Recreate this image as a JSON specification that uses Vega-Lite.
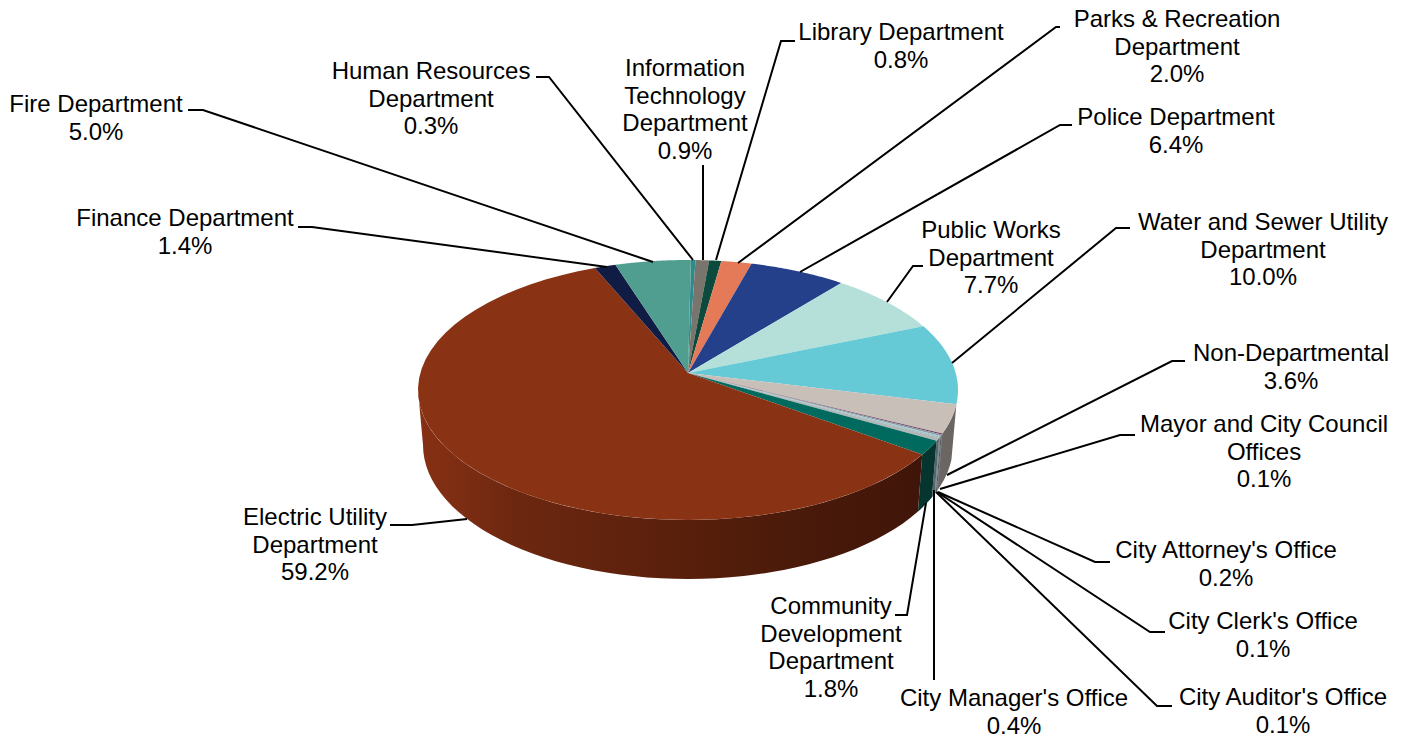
{"$schema":"https://vega.github.io/schema/vega-lite/v6.json","width":1405,"height":740,"padding":0,"autosize":{"type":"none"},"background":"white","config":{"view":{"stroke":null}},"datasets":{"slices":[{"ord":1,"dept":"Human Resources\nDepartment","pct":0.3,"lx":431,"ly":72},{"ord":2,"dept":"Information\nTechnology\nDepartment","pct":0.9,"lx":685,"ly":69},{"ord":3,"dept":"Library Department","pct":0.8,"lx":901,"ly":33},{"ord":4,"dept":"Parks & Recreation\nDepartment","pct":2.0,"lx":1177,"ly":20},{"ord":5,"dept":"Police Department","pct":6.4,"lx":1176,"ly":118},{"ord":6,"dept":"Public Works\nDepartment","pct":7.7,"lx":991,"ly":231},{"ord":7,"dept":"Water and Sewer Utility\nDepartment","pct":10.0,"lx":1263,"ly":223},{"ord":8,"dept":"Non-Departmental","pct":3.6,"lx":1291,"ly":354},{"ord":9,"dept":"Mayor and City Council\nOffices","pct":0.1,"lx":1264,"ly":425},{"ord":10,"dept":"City Attorney's Office","pct":0.2,"lx":1226,"ly":551},{"ord":11,"dept":"City Clerk's Office","pct":0.1,"lx":1263,"ly":622},{"ord":12,"dept":"City Auditor's Office","pct":0.1,"lx":1283,"ly":698},{"ord":13,"dept":"City Manager's Office","pct":0.4,"lx":1014,"ly":699},{"ord":14,"dept":"Community\nDevelopment\nDepartment","pct":1.8,"lx":831,"ly":607},{"ord":15,"dept":"Electric Utility\nDepartment","pct":59.2,"lx":315,"ly":518},{"ord":16,"dept":"Finance Department","pct":1.4,"lx":185,"ly":219},{"ord":17,"dept":"Fire Department","pct":5.0,"lx":96,"ly":105}],"leaders":[{"id":"Fire","seq":1,"px":188,"py":110},{"id":"Fire","seq":2,"px":203,"py":110},{"id":"Fire","seq":3,"px":653,"py":262},{"id":"Finance","seq":1,"px":298,"py":227},{"id":"Finance","seq":2,"px":312,"py":227},{"id":"Finance","seq":3,"px":607,"py":267},{"id":"HR","seq":1,"px":536,"py":77},{"id":"HR","seq":2,"px":549,"py":77},{"id":"HR","seq":3,"px":693,"py":260},{"id":"IT","seq":1,"px":703,"py":165},{"id":"IT","seq":2,"px":703,"py":260},{"id":"Library","seq":1,"px":795,"py":41},{"id":"Library","seq":2,"px":781,"py":41},{"id":"Library","seq":3,"px":716,"py":260},{"id":"Parks","seq":1,"px":1060,"py":27},{"id":"Parks","seq":2,"px":1056,"py":27},{"id":"Parks","seq":3,"px":738,"py":263},{"id":"Police","seq":1,"px":1072,"py":125},{"id":"Police","seq":2,"px":1060,"py":125},{"id":"Police","seq":3,"px":800,"py":272},{"id":"PW","seq":1,"px":923,"py":266},{"id":"PW","seq":2,"px":913,"py":266},{"id":"PW","seq":3,"px":887,"py":302},{"id":"Water","seq":1,"px":1130,"py":228},{"id":"Water","seq":2,"px":1116,"py":228},{"id":"Water","seq":3,"px":952,"py":363},{"id":"Non","seq":1,"px":1185,"py":361},{"id":"Non","seq":2,"px":1172,"py":361},{"id":"Non","seq":3,"px":947,"py":475},{"id":"Mayor","seq":1,"px":1135,"py":435},{"id":"Mayor","seq":2,"px":1120,"py":435},{"id":"Mayor","seq":3,"px":940,"py":489},{"id":"Attorney","seq":1,"px":1110,"py":562},{"id":"Attorney","seq":2,"px":1095,"py":562},{"id":"Attorney","seq":3,"px":938,"py":492},{"id":"Clerk","seq":1,"px":1165,"py":632},{"id":"Clerk","seq":2,"px":1150,"py":632},{"id":"Clerk","seq":3,"px":937,"py":492},{"id":"Auditor","seq":1,"px":1172,"py":706},{"id":"Auditor","seq":2,"px":1157,"py":706},{"id":"Auditor","seq":3,"px":936,"py":492},{"id":"Manager","seq":1,"px":934,"py":680},{"id":"Manager","seq":2,"px":934,"py":490},{"id":"Community","seq":1,"px":895,"py":615},{"id":"Community","seq":2,"px":907,"py":615},{"id":"Community","seq":3,"px":926,"py":503},{"id":"Electric","seq":1,"px":390,"py":525},{"id":"Electric","seq":2,"px":412,"py":525},{"id":"Electric","seq":3,"px":467,"py":519}]},"resolve":{"scale":{"color":"independent"}},"layer":[{"data":{"name":"slices"},"transform":[{"window":[{"op":"sum","field":"pct","as":"cum"}],"sort":[{"field":"ord"}]},{"calculate":"0.012+2*PI*(datum.cum-datum.pct)/100","as":"t0"},{"calculate":"0.012+2*PI*datum.cum/100","as":"t1"},{"calculate":"max(datum.t0-0.1*sin(datum.t0),PI/2)","as":"s0"},{"calculate":"min(datum.t1-0.1*sin(datum.t1),3*PI/2)","as":"s1"},{"filter":"datum.s1>datum.s0 && datum.ord!=15"},{"calculate":"[0,0.04,0.08,0.12,0.16,0.2,0.24,0.28,0.32,0.36,0.4,0.44,0.48,0.52,0.56,0.6,0.64,0.68,0.72,0.76,0.8,0.84,0.88,0.92,0.96,1,1.0001,1.04,1.08,1.12,1.16,1.2,1.24,1.28,1.32,1.36,1.4,1.44,1.48,1.52,1.56,1.6,1.64,1.68,1.72,1.76,1.8,1.84,1.88,1.92,1.96,2]","as":"k"},{"flatten":["k"]},{"calculate":"datum.k<=1?datum.s0+(datum.s1-datum.s0)*datum.k:datum.s0+(datum.s1-datum.s0)*(2-datum.k)","as":"p"},{"calculate":"datum.k<=1?688+270*sin(datum.p):688+265*sin(datum.p)","as":"x"},{"calculate":"datum.k<=1?390-130*cos(datum.p):445-134*cos(datum.p)","as":"y"}],"mark":{"type":"line","filled":true,"strokeWidth":0},"encoding":{"x":{"field":"x","type":"quantitative","axis":null,"scale":{"domain":[0,1405],"nice":false,"zero":false}},"y":{"field":"y","type":"quantitative","axis":null,"scale":{"domain":[0,740],"reverse":true,"nice":false,"zero":false}},"order":{"field":"k","type":"quantitative"},"color":{"field":"ord","type":"nominal","legend":null,"scale":{"domain":[8,9,10,11,12,13,14],"range":["#6b6662","#3a3a4a","#4a5a60","#55686e","#4f6a74","#5a6468","#06352f"]}}}},{"data":{"name":"slices"},"transform":[{"window":[{"op":"sum","field":"pct","as":"cum"}],"sort":[{"field":"ord"}]},{"calculate":"0.012+2*PI*(datum.cum-datum.pct)/100","as":"t0"},{"calculate":"max(datum.t0-0.1*sin(datum.t0),PI/2)","as":"s0"},{"calculate":"3*PI/2","as":"s1"},{"filter":"datum.ord==15"},{"calculate":"[0,0.02,0.04,0.06,0.08,0.1,0.12,0.14,0.16,0.18,0.2,0.22,0.24,0.26,0.28,0.3,0.32,0.34,0.36,0.38,0.4,0.42,0.44,0.46,0.48,0.5,0.52,0.54,0.56,0.58,0.6,0.62,0.64,0.66,0.68,0.7,0.72,0.74,0.76,0.78,0.8,0.82,0.84,0.86,0.88,0.9,0.92,0.94,0.96,0.98,1,1.0001,1.02,1.04,1.06,1.08,1.1,1.12,1.14,1.16,1.18,1.2,1.22,1.24,1.26,1.28,1.3,1.32,1.34,1.36,1.38,1.4,1.42,1.44,1.46,1.48,1.5,1.52,1.54,1.56,1.58,1.6,1.62,1.64,1.66,1.68,1.7,1.72,1.74,1.76,1.78,1.8,1.82,1.84,1.86,1.88,1.9,1.92,1.94,1.96,1.98,2]","as":"k"},{"flatten":["k"]},{"calculate":"datum.k<=1?datum.s0+(datum.s1-datum.s0)*datum.k:datum.s0+(datum.s1-datum.s0)*(2-datum.k)","as":"p"},{"calculate":"datum.k<=1?688+270*sin(datum.p):688+265*sin(datum.p)","as":"x"},{"calculate":"datum.k<=1?390-130*cos(datum.p):445-134*cos(datum.p)","as":"y"}],"mark":{"type":"line","filled":true,"strokeWidth":0,"color":{"gradient":"linear","x1":1,"y1":0,"x2":0,"y2":0,"stops":[{"offset":0,"color":"#401509"},{"offset":0.25,"color":"#4a1a0a"},{"offset":0.5,"color":"#5a200c"},{"offset":0.8,"color":"#6c2710"},{"offset":0.92,"color":"#7d2d13"},{"offset":1,"color":"#863014"}]}},"encoding":{"x":{"field":"x","type":"quantitative","axis":null},"y":{"field":"y","type":"quantitative","axis":null},"order":{"field":"k","type":"quantitative"}}},{"data":{"name":"slices"},"transform":[{"window":[{"op":"sum","field":"pct","as":"cum"}],"sort":[{"field":"ord"}]},{"calculate":"0.012+2*PI*(datum.cum-datum.pct)/100","as":"t0"},{"calculate":"0.012+2*PI*datum.cum/100","as":"t1"},{"calculate":"[-1,0,0.02,0.04,0.06,0.08,0.1,0.12,0.14,0.16,0.18,0.2,0.22,0.24,0.26,0.28,0.3,0.32,0.34,0.36,0.38,0.4,0.42,0.44,0.46,0.48,0.5,0.52,0.54,0.56,0.58,0.6,0.62,0.64,0.66,0.68,0.7,0.72,0.74,0.76,0.78,0.8,0.82,0.84,0.86,0.88,0.9,0.92,0.94,0.96,0.98,1]","as":"k"},{"flatten":["k"]},{"calculate":"datum.t0+(datum.t1-datum.t0)*datum.k","as":"th"},{"calculate":"datum.th-0.1*sin(datum.th)","as":"w"},{"calculate":"datum.k<0?688:688+270*sin(datum.w)","as":"x"},{"calculate":"datum.k<0?373:390-130*cos(datum.w)","as":"y"}],"mark":{"type":"line","filled":true,"strokeWidth":0},"encoding":{"x":{"field":"x","type":"quantitative","axis":null},"y":{"field":"y","type":"quantitative","axis":null},"order":{"field":"k","type":"quantitative"},"color":{"field":"ord","type":"nominal","legend":null,"scale":{"domain":[1,2,3,4,5,6,7,8,9,10,11,12,13,14,15,16,17],"range":["#2f8a8c","#7a756c","#0b4a3c","#e57a58","#25408a","#b5e0da","#66c9d6","#c8bfb8","#6b3a5f","#8a9aa0","#a9c4cc","#7fb4c4","#b0b8b8","#006a5f","#8a3214","#111c44","#4f9e8f"]}}}},{"data":{"name":"leaders"},"mark":{"type":"line","color":"black","strokeWidth":2},"encoding":{"x":{"field":"px","type":"quantitative","axis":null},"y":{"field":"py","type":"quantitative","axis":null},"order":{"field":"seq","type":"quantitative"},"detail":{"field":"id","type":"nominal"}}},{"data":{"name":"slices"},"transform":[{"calculate":"datum.dept+'\\n'+format(datum.pct,'.1f')+'%'","as":"label"}],"mark":{"type":"text","font":"Liberation Sans","fontSize":24,"color":"black","align":"center","baseline":"middle","lineBreak":"\n","lineHeight":27.6},"encoding":{"x":{"field":"lx","type":"quantitative","axis":null},"y":{"field":"ly","type":"quantitative","axis":null},"text":{"field":"label","type":"nominal"}}}]}
